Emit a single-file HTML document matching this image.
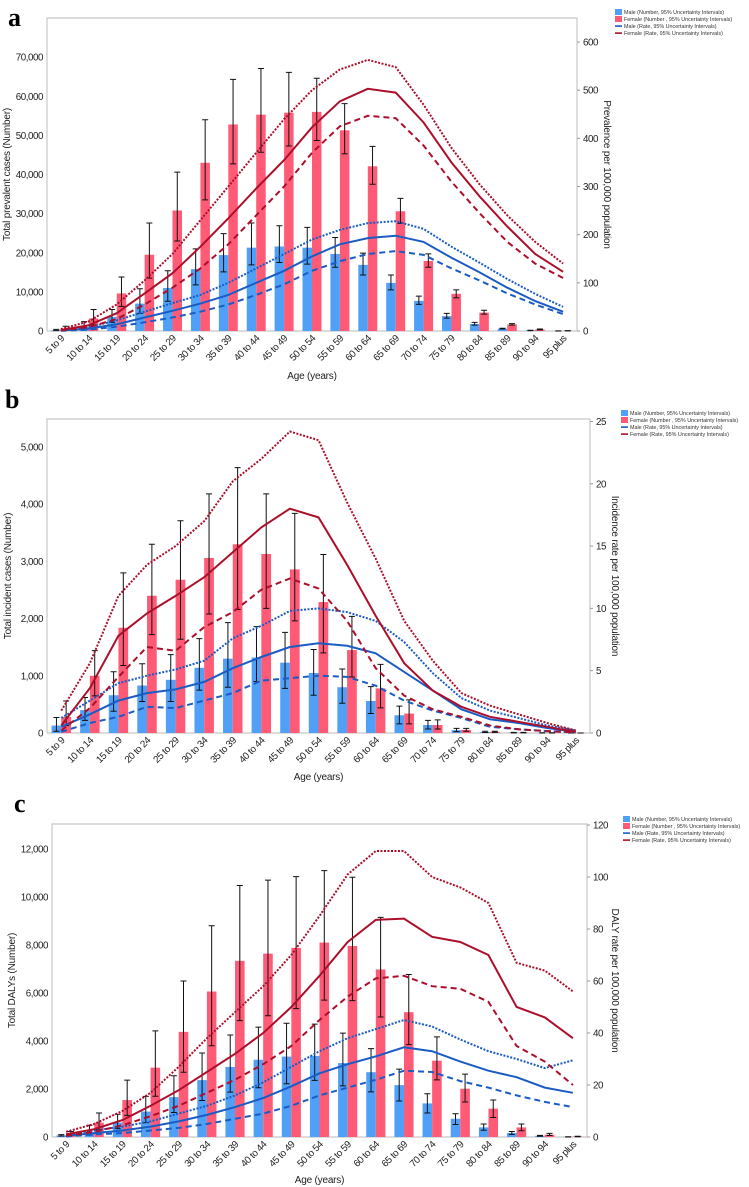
<!DOCTYPE html>
<html><head><meta charset="utf-8">
<style>
html,body{margin:0;padding:0;background:#fff;}
svg{display:block;font-family:"Liberation Sans",sans-serif;}
</style></head>
<body>
<svg id="chart" width="749" height="1187" viewBox="0 0 749 1187" xmlns="http://www.w3.org/2000/svg"></svg>
<script>
const cats=["5 to 9","10 to 14","15 to 19","20 to 24","25 to 29","30 to 34","35 to 39","40 to 44","45 to 49","50 to 54","55 to 59","60 to 64","65 to 69","70 to 74","75 to 79","80 to 84","85 to 89","90 to 94","95 plus"];

// Panel a: prevalence
const aMaleNum=[200,1000,3600,7000,11000,15800,19400,21300,21600,21300,19700,16900,12300,7700,3800,1800,600,150,20];
const aMaleHi=[400,2400,5500,10800,15400,21000,24900,27600,26900,26500,23900,19900,14300,8900,4500,2200,700,200,30];
const aMaleLo=[100,500,2200,4500,7600,11800,15100,16900,17500,17100,16300,14300,10500,6800,3300,1500,500,100,10];
const aFemNum=[600,3200,9600,19500,30800,43000,52800,55300,55800,56000,51300,42100,30600,17900,9500,4700,1700,400,50];
const aFemHi=[1200,5500,13800,27600,40600,54000,64300,67100,66100,64600,58100,47200,33900,19700,10500,5300,1900,500,80];
const aFemLo=[300,1500,6300,13500,23000,33500,42700,45700,47300,48700,45300,37500,27500,16300,8500,4300,1500,300,30];
const aMaleRate=[1,5,14,28,42,57,75,100,125,155,180,193,198,185,152,122,90,62,40];
const aMaleRateHi=[2,8,22,40,58,75,100,130,160,190,210,224,228,212,175,142,108,77,50];
const aMaleRateLo=[0.5,3,9,18,28,40,55,75,97,125,145,160,166,158,130,105,78,55,35];
const aFemRate=[2,12,37,78,120,175,234,296,355,423,477,503,495,433,350,280,217,160,123];
const aFemRateHi=[4,20,55,105,160,230,300,370,440,500,543,563,548,470,380,305,240,185,140];
const aFemRateLo=[1,8,25,55,90,130,180,240,300,370,425,447,442,385,310,245,185,140,110];
const aLeftTicks=[0,10000,20000,30000,40000,50000,60000,70000];
const aRightTicks=[0,100,200,300,400,500,600];

// Panel b: incidence
const bMaleNum=[130,400,660,830,930,1140,1300,1320,1230,1050,800,560,310,140,50,20,5,2,0];
const bMaleHi=[270,620,1070,1210,1370,1650,1930,1860,1760,1460,1120,810,470,220,80,30,10,4,0];
const bMaleLo=[30,220,380,550,550,750,800,900,780,660,520,340,160,70,25,8,2,1,0];
const bFemNum=[280,1000,1840,2400,2680,3060,3300,3130,2860,2290,1450,780,340,140,55,20,5,2,0];
const bFemHi=[560,1440,2800,3300,3710,4180,4640,4180,3840,3120,2040,1200,580,230,80,30,10,4,0];
const bFemLo=[130,650,1180,1720,1640,2080,2160,2180,1960,1400,980,440,160,70,30,10,2,1,0];
const bMaleRate=[0.5,1.5,2.6,3.2,3.5,4.1,5.2,6.1,6.9,7.2,7.0,6.4,4.9,3.4,1.9,1.1,0.8,0.4,0.1];
const bMaleRateHi=[1.2,2.6,4.0,4.6,5.1,5.8,7.6,8.6,9.8,10.0,9.7,9.0,7.3,4.8,2.8,1.8,1.2,0.6,0.2];
const bMaleRateLo=[0.1,0.8,1.3,2.1,2.0,2.6,3.2,4.2,4.4,4.6,4.5,3.8,2.6,1.8,1.2,0.5,0.3,0.15,0.05];
const bFemRate=[0.6,3.6,7.8,9.6,11,12.5,14.5,16.5,18.0,17.3,13.5,9.4,5.6,3.4,2.1,1.3,0.9,0.5,0.1];
const bFemRateHi=[1.8,5.6,11,13.5,15,17,20.2,22,24.2,23.5,18.5,14,9,5.8,3.2,2.2,1.5,0.8,0.2];
const bFemRateLo=[0.2,2,4.5,6.9,6.6,8.5,9.7,11.5,12.4,11.6,9,5.2,3,1.9,1.3,0.6,0.3,0.15,0.05];
const bLeftTicks=[0,1000,2000,3000,4000,5000];
const bRightTicks=[0,5,10,15,20,25];

// Panel c: DALYs
const cMaleNum=[70,200,600,1060,1660,2370,2920,3220,3350,3380,3080,2700,2160,1400,760,400,170,50,5];
const cMaleHi=[100,490,950,1690,2550,3500,4250,4580,4740,4700,4330,3680,2830,1800,970,540,230,70,10];
const cMaleLo=[40,80,350,600,1020,1520,1870,2050,2220,2360,2130,1880,1500,1000,520,280,110,30,2];
const cFemNum=[130,600,1540,2890,4380,6060,7340,7640,7880,8100,7960,6980,5200,3180,2010,1180,400,100,20];
const cFemHi=[230,1000,2370,4420,6500,8800,10480,10700,10850,11100,10820,9150,6770,4170,2620,1540,540,150,30];
const cFemLo=[60,300,900,1700,2700,3800,4850,5050,5350,5700,5680,5000,3850,2380,1460,810,260,60,10];
const cMaleRate=[0.5,1.5,2.5,4,6,8.5,11.5,15,19.5,24.5,28,31,34.5,33,29,25.5,23,19,17];
const cMaleRateHi=[1,2.5,4,6,9,12,16,21,27,33,38,41.5,45,42.5,37.5,33,30,26.5,29.5];
const cMaleRateLo=[0.2,1,1.5,2.5,3.5,5,7,9,12,16,19,22,25.5,25,21.5,19,16,13.5,11.5];
const cFemRate=[1,3,6.5,12,18,25,32,40,50,62,75,83.5,84,77,75,70,50,46,38];
const cFemRateHi=[2,5,10,17,27,38,48,58,70,85,101,110,110,100,96,90,67,64,56];
const cFemRateLo=[0.5,2,4.5,8,12,17,22,28,35,45,54,61,62,58,57,52,35,29,20];
const cLeftTicks=[0,2000,4000,6000,8000,10000,12000];
const cRightTicks=[0,20,40,60,80,100,120];

const NS="http://www.w3.org/2000/svg";
const svg=document.getElementById('chart');
const MALE_BAR="#4fa0f6",FEM_BAR="#ff5b76",MALE_LINE="#1a5cc4",FEM_LINE="#ac0f2a";
const TF='9.8',LS='-0.45';
function mk(tag,attrs,parent){const e=document.createElementNS(NS,tag);for(const k in attrs)e.setAttribute(k,attrs[k]);(parent||svg).appendChild(e);return e;}
function fmt(v){return v.toLocaleString('en-US');}

function panel(p){
  const g=mk('g',{});
  
  
  const L=p.left,R=p.right,T=p.top,B=p.bottom;
  const gw=(R-L)/cats.length;
  const xC=i=>L+gw*(i+0.5);
  const yL=v=>B-(v/p.lmax)*(B-T);
  const yR=v=>B-(v/p.rmax)*(B-T);
  const lt=mk('text',{x:p.letterX,y:p.letterY,'font-family':'Liberation Serif,serif','font-weight':'bold','font-size':'26'},g);
  lt.textContent=p.id;
  
  
  const fr=mk('path',{d:`M${L},${B}V${T}H${R}V${B}`,fill:'none',stroke:'#c8c8c8','stroke-width':'1.2'},g);
  
  
  const xa=mk('line',{x1:L,y1:B,x2:R,y2:B,stroke:'#c8c8c8','stroke-width':'1.2'},g);
  
  
  p.lticks.forEach(v=>{
    const t=mk('text',{x:L-4,y:yL(v)+3.5,'text-anchor':'end','font-size':TF,'letter-spacing':LS,fill:'#222'},g);
    t.textContent=fmt(v);
    
    
  });
  p.rticks.forEach(v=>{
    mk('line',{x1:R,y1:yR(v),x2:R+3,y2:yR(v),stroke:'#999'},g);
    const t=mk('text',{x:R+6,y:yR(v)+3.5,'font-size':TF,'letter-spacing':LS,fill:'#222'},g);
    t.textContent=fmt(v);
    
    
  });
  cats.forEach((c,i)=>{
    const x=xC(i)+4,y=B+8;
    const t=mk('text',{x:x,y:y,'text-anchor':'end','font-size':TF,'letter-spacing':LS,fill:'#222',transform:`rotate(-45 ${x} ${y})`},g);
    t.textContent=c;
    
    
  });
  const lx=p.ltX,ly=(T+B)/2;
  const lt2=mk('text',{x:lx,y:ly,'text-anchor':'middle','font-size':'10','letter-spacing':'-0.2',fill:'#222',transform:`rotate(-90 ${lx} ${ly})`},g);
  lt2.textContent=p.ltitle;
  
  
  const rx=p.rtX;
  const rt=mk('text',{x:rx,y:ly,'text-anchor':'middle','font-size':'10','letter-spacing':'-0.2',fill:'#222',transform:`rotate(90 ${rx} ${ly})`},g);
  rt.textContent=p.rtitle;
  
  
  const xt=mk('text',{x:(L+R)/2,y:p.xtY,'text-anchor':'middle','font-size':'10','letter-spacing':'-0.2',fill:'#222'},g);
  xt.textContent='Age (years)';
  
  
  const bw=gw*0.34;
  function bars(nums,hi,lo,off,color,name){
    nums.forEach((v,i)=>{
      const x=xC(i)+off*bw;
      const r=mk('rect',{x:x,y:yL(v),width:bw,height:Math.max(0,B-yL(v)),fill:color},g);
      
      
      const cx=x+bw/2;
      const eb=mk('path',{d:`M${cx},${yL(hi[i])}V${yL(lo[i])}M${cx-3},${yL(hi[i])}H${cx+3}M${cx-3},${yL(lo[i])}H${cx+3}`,stroke:'#111','stroke-width':'1',fill:'none'},g);
      
      
    });
  }
  bars(p.mNum,p.mHi,p.mLo,-1,MALE_BAR,'male');
  bars(p.fNum,p.fHi,p.fLo,0,FEM_BAR,'female');
  function line(vals,color,dash,name,w){
    const d=vals.map((v,i)=>(i?'L':'M')+xC(i).toFixed(1)+','+yR(v).toFixed(1)).join('');
    const a={d:d,fill:'none',stroke:color,'stroke-width':w};
    if(dash)a['stroke-dasharray']=dash;
    const pth=mk('path',a,g);
    
    
  }
  line(p.mRateHi,MALE_LINE,'2 1.5','male-rate-upper-line',2);
  line(p.mRateLo,MALE_LINE,'6 4','male-rate-lower-line',2);
  line(p.mRate,MALE_LINE,null,'male-rate-line',2);
  line(p.fRateHi,FEM_LINE,'2 1.5','female-rate-upper-line',2);
  line(p.fRateLo,FEM_LINE,'6 4','female-rate-lower-line',2);
  line(p.fRate,FEM_LINE,null,'female-rate-line',2);
  const labels=['Male (Number, 95% Uncertainty Intervals)','Female (Number , 95% Uncertainty Intervals)','Male (Rate, 95% Uncertainty Intervals)','Female (Rate, 95% Uncertainty Intervals)'];
  const cols=[MALE_BAR,FEM_BAR,MALE_LINE,FEM_LINE];
  labels.forEach((lb,i)=>{
    const y=p.legY+i*7;
    if(i<2){const s=mk('rect',{x:p.legX,y:y-3,width:7,height:6,fill:cols[i]},g);
      }
    else{const s=mk('rect',{x:p.legX,y:y-0.7,width:7,height:1.6,fill:cols[i]},g);
      }
    const t=mk('text',{x:p.legX+9,y:y+2,'font-size':'5.4',fill:'#333'},g);
    t.textContent=lb;
    
    
  });
}

panel({id:'a',left:47,right:577,top:18,bottom:331,lmax:80000,rmax:650,lticks:aLeftTicks,rticks:aRightTicks,
  letterX:8,letterY:26,ltX:10,rtX:604,xtY:379,ltitle:'Total prevalent cases (Number)',rtitle:'Prevalence per 100,000 population',
  legX:615,legY:12,mNum:aMaleNum,mHi:aMaleHi,mLo:aMaleLo,fNum:aFemNum,fHi:aFemHi,fLo:aFemLo,
  mRate:aMaleRate,mRateHi:aMaleRateHi,mRateLo:aMaleRateLo,fRate:aFemRate,fRateHi:aFemRateHi,fRateLo:aFemRateLo});
panel({id:'b',left:47,right:590,top:419,bottom:733,lmax:5490,rmax:25.2,lticks:bLeftTicks,rticks:bRightTicks,
  letterX:5,letterY:408,ltX:11,rtX:612,xtY:780,ltitle:'Total incident cases (Number)',rtitle:'Incidence rate per 100,000 population',
  legX:621,legY:413,mNum:bMaleNum,mHi:bMaleHi,mLo:bMaleLo,fNum:bFemNum,fHi:bFemHi,fLo:bFemLo,
  mRate:bMaleRate,mRateHi:bMaleRateHi,mRateLo:bMaleRateLo,fRate:bFemRate,fRateHi:bFemRateHi,fRateLo:bFemRateLo});
panel({id:'c',left:52,right:587,top:824,bottom:1137,lmax:13040,rmax:120.4,lticks:cLeftTicks,rticks:cRightTicks,
  letterX:14,letterY:812,ltX:15,rtX:612,xtY:1183,ltitle:'Total DALYs (Number)',rtitle:'DALY rate per 100,000 population',
  legX:623,legY:819,mNum:cMaleNum,mHi:cMaleHi,mLo:cMaleLo,fNum:cFemNum,fHi:cFemHi,fLo:cFemLo,
  mRate:cMaleRate,mRateHi:cMaleRateHi,mRateLo:cMaleRateLo,fRate:cFemRate,fRateHi:cFemRateHi,fRateLo:cFemRateLo});
</script>
</body></html>
